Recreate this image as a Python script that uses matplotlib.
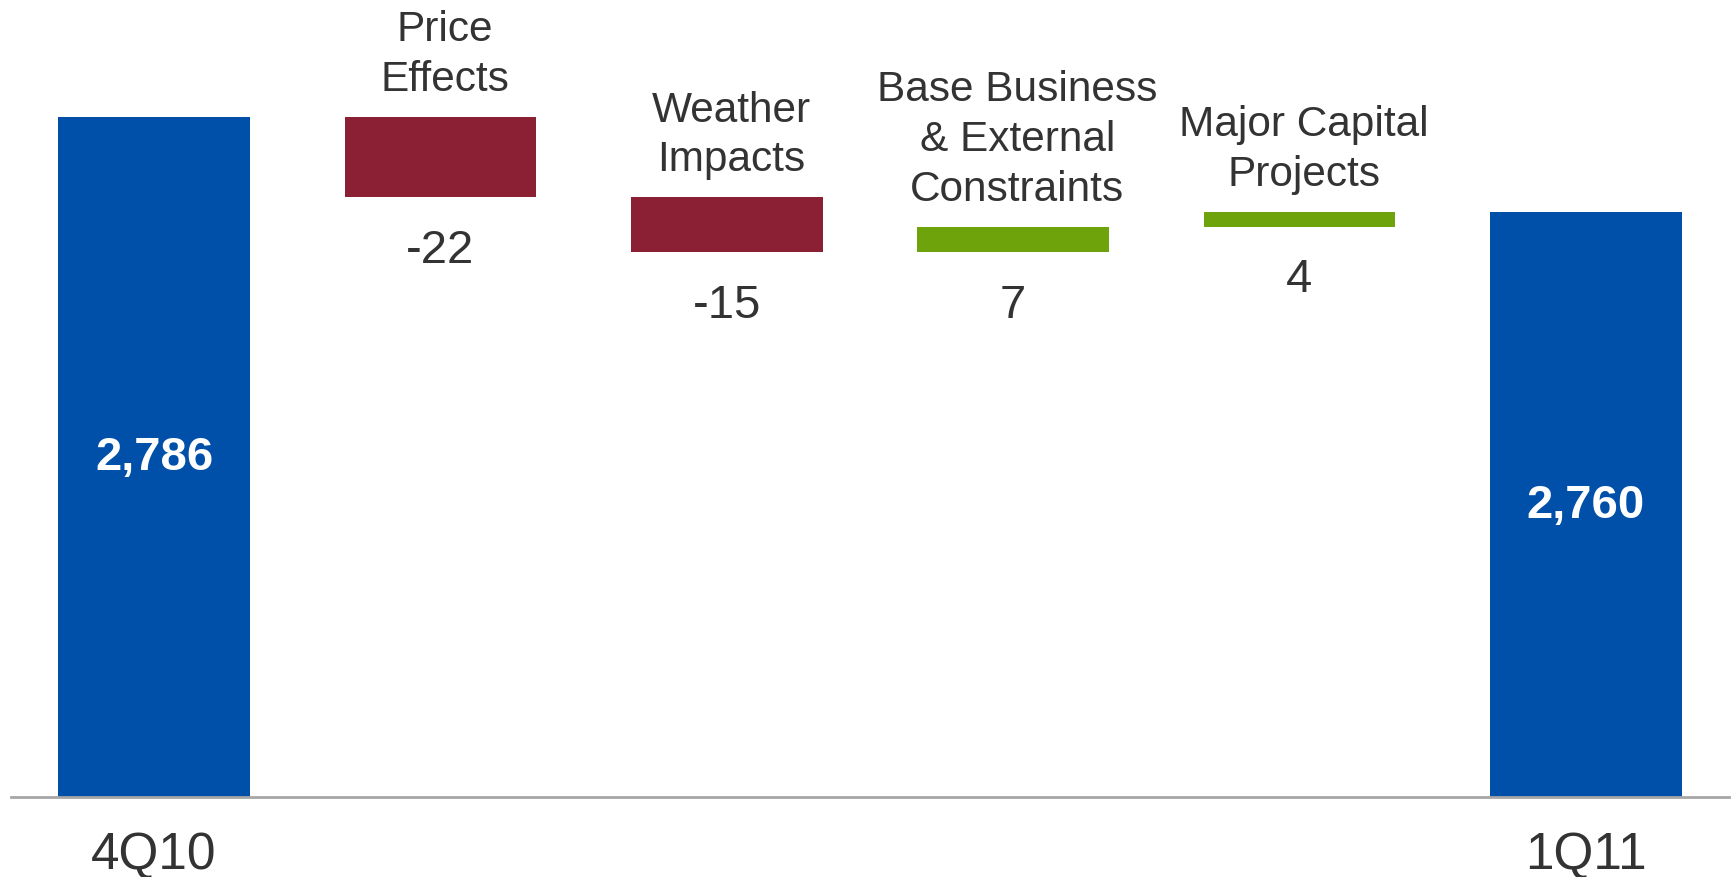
import matplotlib
matplotlib.use("Agg")
import matplotlib.pyplot as plt

# Quarter-over-quarter bridge (values in thousand boe/d)
start_label = "4Q10"
end_label = "1Q11"
start_value = 2786
end_value = 2760
step_labels = ["Price\nEffects", "Weather\nImpacts",
               "Base Business\n& External\nConstraints", "Major Capital\nProjects"]
step_values = [-22, -15, 7, 4]

BLUE = "#0050AA"
RED = "#8B2035"
GREEN = "#6EA30B"
TEXT = "#333333"
FONT = "Liberation Sans"

fig = plt.figure(figsize=(17.33, 8.78), dpi=100)
ax = fig.add_axes([0.0063, 0.0911, 0.9914, 0.9089])

y_floor = 2600
width = 0.67
n = len(step_values)

# Opening and closing totals
ax.bar(0, start_value - y_floor, bottom=y_floor, width=width, color=BLUE)
ax.bar(n + 1, end_value - y_floor, bottom=y_floor, width=width, color=BLUE)
for x, v in [(0, start_value), (n + 1, end_value)]:
    ax.text(x, (v + y_floor) / 2, f"{v:,}", ha="center", va="center",
            color="white", fontsize=34, fontweight="bold", family=FONT)

# Floating step bars
level = start_value
for i, (lab, d) in enumerate(zip(step_labels, step_values), start=1):
    lo, hi = min(level, level + d), max(level, level + d)
    ax.bar(i, hi - lo, bottom=lo, width=width, color=RED if d < 0 else GREEN)
    ax.annotate(lab, (i, hi), xytext=(3, 13), textcoords="offset points",
                ha="center", va="bottom", fontsize=30.5, color=TEXT,
                family=FONT, linespacing=1.32)
    ax.annotate(f"{d}", (i, lo), xytext=(0, -22), textcoords="offset points",
                ha="center", va="top", fontsize=34, color=TEXT, family=FONT)
    level += d

ax.set_xlim(-0.5, n + 1.5)
ax.set_ylim(y_floor, 2818.3)
ax.set_xticks([0, n + 1])
ax.set_xticklabels([start_label, end_label], fontsize=37, color=TEXT, family=FONT)
ax.tick_params(axis="x", length=0, pad=24)
ax.set_yticks([])
for side in ["top", "left", "right"]:
    ax.spines[side].set_visible(False)
ax.spines["bottom"].set_color("#A6A6A6")
ax.spines["bottom"].set_linewidth(2)

fig.savefig("out.png", dpi=100)
